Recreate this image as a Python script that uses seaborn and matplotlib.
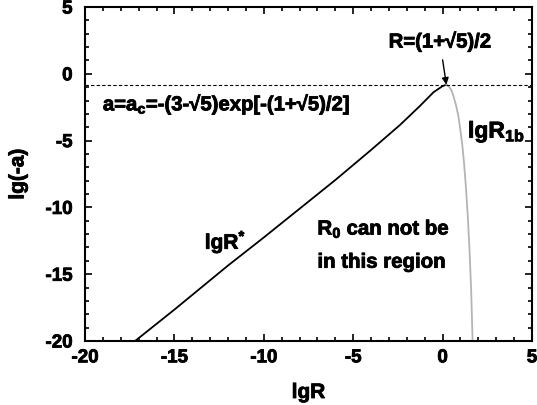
"""
plot.py
Phase boundary of lg(-a) against lgR, with the critical value a_c.
"""

import pandas as pd
import seaborn as sns
import matplotlib.pyplot as plt
import matplotlib.patheffects as pe

# black branch lgR*
star_lgR = [-17.2, -15.0, -12.0, -10.0, -8.0, -6.0, -4.0, -2.4, -1.3, -0.5, 0.0, 0.21]
star_lga = [-20.0, -17.65, -14.35, -12.25, -10.1, -7.95, -5.7, -3.85, -2.45, -1.37, -0.92, -0.82]

# grey branch lgR_1b
r1b_lgR = [0.21, 0.35, 0.50, 0.60, 0.75, 0.88, 0.97, 1.10, 1.20, 1.30, 1.40, 1.50, 1.60, 1.68]
r1b_lga = [-0.82, -0.95, -1.25, -1.64, -2.35, -3.14, -3.98, -5.3, -6.7, -8.4, -10.5, -13.0, -16.3, -20.1]

lg_ac = -0.82  # lg(-a_c)

major = list(range(-20, 6, 5))
minor = [v for v in range(-20, 6) if v % 5]

plt.rcParams['font.family'] = ['Liberation Sans', 'DejaVu Sans']
plt.rcParams['font.weight'] = 'bold'
plt.rcParams['axes.unicode_minus'] = False
plt.rcParams['mathtext.fontset'] = 'custom'
plt.rcParams['mathtext.rm'] = 'Liberation Sans:bold'
plt.rcParams['mathtext.it'] = 'Liberation Sans:bold'
plt.rcParams['mathtext.bf'] = 'Liberation Sans:bold'

heavy = [pe.withStroke(linewidth=0.6, foreground='black')]

star = pd.DataFrame({'lgR': star_lgR, 'lga': star_lga})
r1b = pd.DataFrame({'lgR': r1b_lgR, 'lga': r1b_lga})

fig = plt.figure(figsize=(5.37, 4.06), dpi=100)
ax = fig.add_axes([85 / 537, 1 - 342 / 406, 447 / 537, 334 / 406])

sns.lineplot(data=star, x='lgR', y='lga', sort=False, estimator=None,
             color='black', linewidth=1.3, ax=ax)
sns.lineplot(data=r1b, x='lgR', y='lga', sort=False, estimator=None,
             color='#b4b4b4', linewidth=1.3, ax=ax)
ax.axhline(lg_ac, color='black', linestyle=(0, (3, 2)), linewidth=0.8)

ax.set_xlim(-20, 5)
ax.set_ylim(-20, 5)
ax.set_xticks(major)
ax.set_yticks(major)
ax.tick_params(which='both', length=0, labelsize=13.5)
ax.tick_params(axis='y', pad=9)
ax.tick_params(axis='x', pad=6)
for lbl in ax.get_xticklabels() + ax.get_yticklabels():
    lbl.set_fontweight('bold')
    lbl.set_path_effects(heavy)
for sp in ax.spines.values():
    sp.set_linewidth(1.5)
    sp.set_color('black')

# inward tick marks on all four sides (lengths in axes fractions, ~7 px and ~4 px)
xt = ax.get_xaxis_transform()
yt = ax.get_yaxis_transform()
for pos, ln in ((major, 0.021), (minor, 0.012)):
    ax.vlines(pos, 0, ln, transform=xt, color='black', lw=1.2, clip_on=False)
    ax.vlines(pos, 1 - ln, 1, transform=xt, color='black', lw=1.2, clip_on=False)
for pos, ln in ((major, 0.0157), (minor, 0.009)):
    ax.hlines(pos, 0, ln, transform=yt, color='black', lw=1.2, clip_on=False)
    ax.hlines(pos, 1 - ln, 1, transform=yt, color='black', lw=1.2, clip_on=False)

ax.set_xlabel('lgR', fontsize=15, fontweight='bold', labelpad=12,
              path_effects=heavy)
ax.set_ylabel('lg(-a)', fontsize=15, fontweight='bold', labelpad=13,
              path_effects=heavy)

ax.annotate('R=(1+√5)/2', xy=(0.21, lg_ac), xytext=(-0.15, 2.4),
            ha='center', va='center', fontsize=14.6, fontweight='bold',
            path_effects=heavy,
            arrowprops=dict(arrowstyle='-|>', color='black', lw=1.0,
                            mutation_scale=10, shrinkA=4, shrinkB=0))
ax.text(-19.0, -2.3, 'a=a$_{c}$=-(3-√5)exp[-(1+√5)/2]', fontsize=14.6,
        fontweight='bold', va='center', path_effects=heavy)
ax.text(-13.3, -12.6, 'lgR$^{*}$', fontsize=15, fontweight='bold', va='center',
        path_effects=heavy)
ax.text(1.42, -4.3, 'lgR$_{1b}$', fontsize=16.5, fontweight='bold', va='center',
        path_effects=heavy)
ax.text(-7.0, -11.6, 'R$_{0}$ can not be', fontsize=14.7, fontweight='bold',
        va='center', path_effects=heavy)
ax.text(-7.0, -14.1, 'in this region', fontsize=14.7, fontweight='bold',
        va='center', path_effects=heavy)

fig.savefig('out.png', dpi=100)
